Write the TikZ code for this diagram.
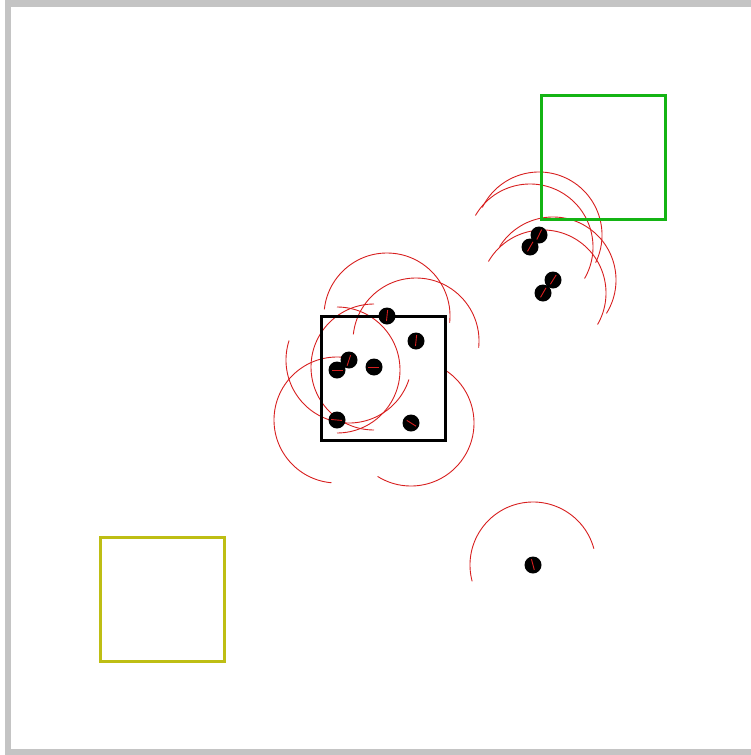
\documentclass[tikz,border=0pt]{standalone}
\usetikzlibrary{calc}
\pgfdeclarelayer{bg}
\pgfsetlayers{bg,main}
\definecolor{framegray}{RGB}{196,196,196}
\definecolor{boxgreen}{RGB}{20,180,20}
\definecolor{boxolive}{RGB}{190,190,20}
\definecolor{senseRed}{RGB}{215,30,30}
\tikzset{
  agent/.style={circle, fill=black, minimum size=17pt, inner sep=0pt},
  sense/.style={draw=senseRed, line width=0.9pt},
  headline/.style={draw=senseRed, line width=0.9pt},
  zone/.style={draw, line width=3pt, minimum size=124pt, inner sep=0pt}
}
\begin{document}
\begin{tikzpicture}[x=1pt,y=-1pt]
\useasboundingbox (0,0) rectangle (751,755);
% frame
\fill[framegray] (5,0) rectangle (751,7);
\fill[framegray] (5,0) rectangle (11,755);
\fill[framegray] (5,749) rectangle (751,755);
% zones
\node[zone, draw=black] (home) at (383,378) {};
\node[zone, draw=boxgreen] (goal) at (603.5,157.5) {};
\node[zone, draw=boxolive] (base) at (162.5,599.5) {};
% agents: name/x/y/heading
\foreach \n/\x/\y/\h in {
  a1/387/316/84, a2/416/341/84, a3/349/360/252, a4/337/370/0,
  a5/374/367/180, a6/337/420/175, a7/411/423/-32,
  b1/539/235/64, b2/530/247/60, b3/553/280/58, b4/543/293/60,
  c1/533/565/105} {
  \node[agent] (\n) at (\x,\y) {};
  \begin{pgfonlayer}{bg}
    \draw[sense] ($(\n)+({\h-90}:63pt)$) arc[start angle={\h-90}, delta angle=180, radius=63pt];
  \end{pgfonlayer}
  \draw[headline] ($(\n.center)+({\h+180}:5pt)$) -- ($(\n.center)+(\h:6pt)$);
}
\end{tikzpicture}
\end{document}
